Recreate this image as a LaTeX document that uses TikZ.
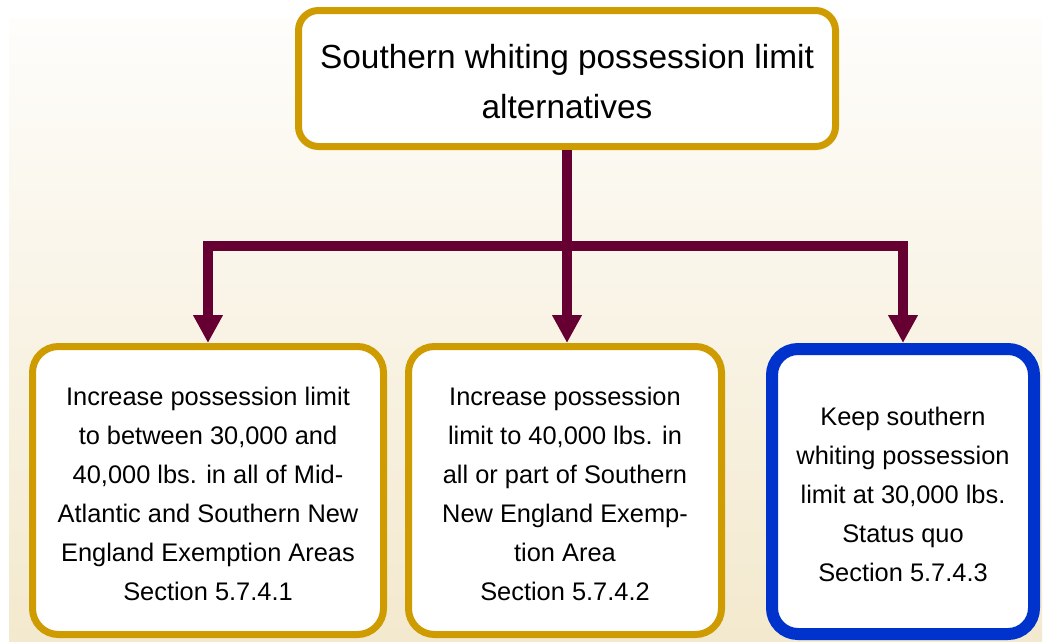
\documentclass[tikz,border=0pt]{standalone}
\usepackage{fontspec}
\setmainfont{Liberation Sans}
\usetikzlibrary{arrows.meta}
\definecolor{gold}{RGB}{206,156,0}
\definecolor{maroon}{RGB}{102,0,51}
\definecolor{royal}{RGB}{0,51,204}
\definecolor{bgtop}{RGB}{254,253,251}
\definecolor{bgbot}{RGB}{243,233,206}
\tikzset{
  box/.style={draw=gold, line width=7pt, rounded corners=26pt, fill=white,
    align=center, text=black, inner sep=0pt},
  bottombox/.style={box, minimum height=288pt,
    font=\fontsize{25.4}{39}\selectfont},
  conn/.style={draw=maroon, line width=10pt},
  arr/.style={conn, -{Triangle[width=28pt,length=28pt]}},
}
% invisible strut that lowers a text block a little inside its box
\newcommand{\lowerby}[1]{\rule{0pt}{#1}}
\begin{document}
\begin{tikzpicture}[x=1pt,y=-1pt]
\useasboundingbox (0,0) rectangle (1063,641);
% backdrop
\shade[top color=bgtop, bottom color=bgbot] (9,18) rectangle (1042,641);

% title box
\node[box, rounded corners=20pt, minimum width=537pt, minimum height=136pt,
  font=\fontsize{33.4}{50}\selectfont] (top) at (567,78.5)
  {\lowerby{30.5pt}Southern whiting possession limit\\alternatives};

% alternatives
\node[bottombox, minimum width=351pt] (b1) at (208,490.5)
  {\lowerby{24.5pt}Increase possession limit\\to between 30,000 and\\40,000 lbs. in all of Mid-\\Atlantic and Southern New\\England Exemption Areas\\Section 5.7.4.1};
\node[bottombox, minimum width=313pt] (b2) at (565,490.5)
  {\lowerby{24.5pt}Increase possession\\limit to 40,000 lbs. in\\all or part of Southern\\New England Exemp-\\tion Area\\Section 5.7.4.2};
\node[bottombox, draw=royal, line width=12pt, minimum width=262pt,
  minimum height=285pt] (b3) at (903,491.5)
  {\lowerby{24.5pt}Keep southern\\whiting possession\\limit at 30,000 lbs.\\Status quo\\Section 5.7.4.3};

% connectors
\coordinate (j) at (567,246);
\draw[conn] (top.south) -- (j);
\draw[arr] (j) -| (b1.north);
\draw[arr] (j) -| (b3.north);
\draw[arr] (j) -- (j |- b2.north);
\end{tikzpicture}
\end{document}
